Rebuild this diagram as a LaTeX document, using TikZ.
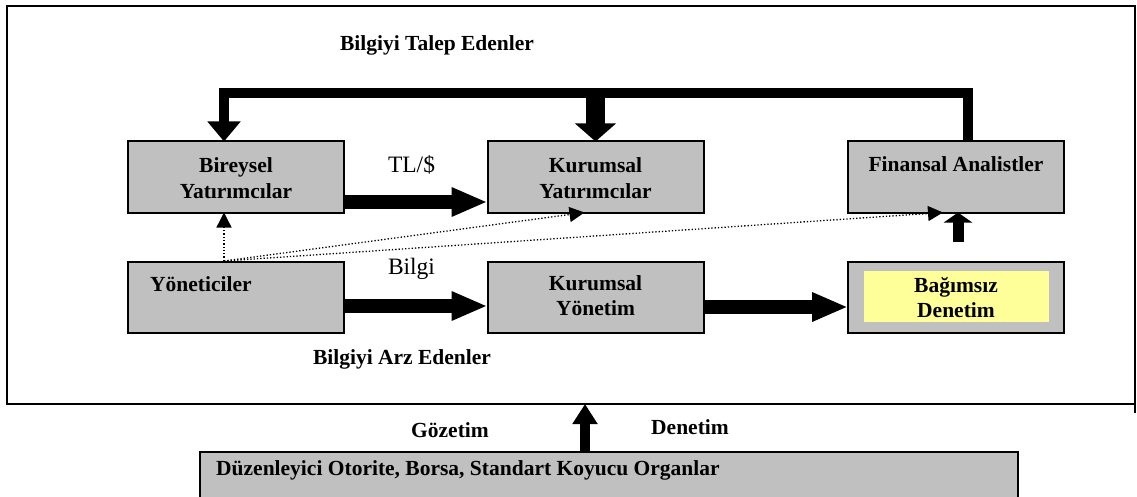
\documentclass[tikz,border=0pt]{standalone}
\usepackage{fontspec}
\setmainfont{Liberation Serif}
\usetikzlibrary{arrows.meta,calc}
\definecolor{boxgray}{HTML}{C0C0C0}
\definecolor{paleyellow}{HTML}{FFFF99}
\begin{document}
\begin{tikzpicture}[x=1pt,y=-1pt,
  box/.style={draw, line width=2pt, fill=boxgray, minimum width=216pt, minimum height=71pt, inner sep=0pt, outer sep=0pt},
  bt/.style={font=\bfseries\fontsize{21.5}{25}\selectfont, align=center, anchor=base, inner sep=0pt},
  rt/.style={font=\fontsize{23.5}{28}\selectfont, anchor=base, inner sep=0pt},
  fat/.style={line width=14pt, -{Triangle[length=36pt,width=27pt]}},
  dot/.style={dotted, line width=1.3pt, -{Triangle[length=15pt,width=15pt]}},
]
\useasboundingbox (0,0) rectangle (1137,497);
\fill[white] (0,0) rectangle (1137,497);
\node[draw, line width=2.5pt, minimum width=1128pt, minimum height=398pt, inner sep=0pt, outer sep=0pt] (frame) at (571,205) {};
\draw[line width=2.5pt] (frame.south east) -- ++(0,9);

% boxes
\node[box] (biy) at (236,177) {};
\node[box] (kury) at (595.5,177) {};
\node[box] (fin) at (956,177) {};
\node[box] (yon) at (236,297) {};
\node[box] (kurn) at (595.5,297) {};
\node[box] (bag) at (956,297) {};
\node[fill=paleyellow, minimum width=185pt, minimum height=51pt, inner sep=0pt] (bagin) at (956.5,296.5) {};
\node[draw, line width=1.5pt, fill=boxgray, minimum width=818pt, minimum height=60pt, inner sep=0pt, outer sep=0pt] (duz) at (609,482) {};

% texts
\node[bt] (t1) at (437,51) {Bilgiyi Talep Edenler};
\node[bt] (t2) at (236,198) {Bireysel\\Yatırımcılar};
\node[bt] (t3) at (595.5,198) {Kurumsal\\Yatırımcılar};
\node[bt] (t4) at (956,172) {Finansal Analistler};
\node[bt, anchor=base west] (t5) at (150,291) {Yöneticiler};
\node[bt] (t6) at (595.5,315) {Kurumsal\\Yönetim};
\node[bt] (t7) at (956,317) {Bağımsız\\Denetim};
\node[bt] (t8) at (402,364) {Bilgiyi Arz Edenler};
\node[bt] (t9) at (450,437) {Gözetim};
\node[bt] (t10) at (690,434) {Denetim};
\node[bt, anchor=base west] (t11) at (216,475) {Düzenleyici Otorite, Borsa, Standart Koyucu Organlar};
\node[rt] (t12) at (411.5,173) {TL/\$};
\node[rt] (t13) at (411.5,274) {Bilgi};

% connectors
\coordinate (topl) at (224,93);
\draw[line width=10pt, line join=miter, -{Triangle[length=20pt,width=32pt]}] ([xshift=12pt]fin.north) |- (topl) -- ([xshift=-12pt]biy.north);
\draw[line width=19pt, -{Triangle[length=18pt,width=40pt]}] (kury.north |- topl) -- (kury.north);
\draw[fat] ([yshift=-25pt]biy.east) -- ([yshift=-25pt]kury.west);
\draw[fat] ([yshift=-9pt]yon.east) -- ([yshift=-9pt]kurn.west);
\draw[fat] ([yshift=-10pt]kurn.east) -- ([yshift=-10pt]bag.west);
\coordinate (fup) at (958,242);
\draw[line width=11pt, -{Triangle[length=10pt,width=28pt]}] (fup) -- (fup |- fin.south);
\coordinate (src) at (224,261);
\draw[dot] (src) -- (src |- biy.south);
\draw[dot] (src) -- ([xshift=-11pt]kury.south);
\draw[dot] (src) -- ([xshift=-13pt]fin.south);
\draw[line width=10pt, -{Triangle[length=20pt,width=24pt]}] ([xshift=-24pt]duz.north) -- ([xshift=-24pt]duz.north |- frame.south);
\end{tikzpicture}
\end{document}
